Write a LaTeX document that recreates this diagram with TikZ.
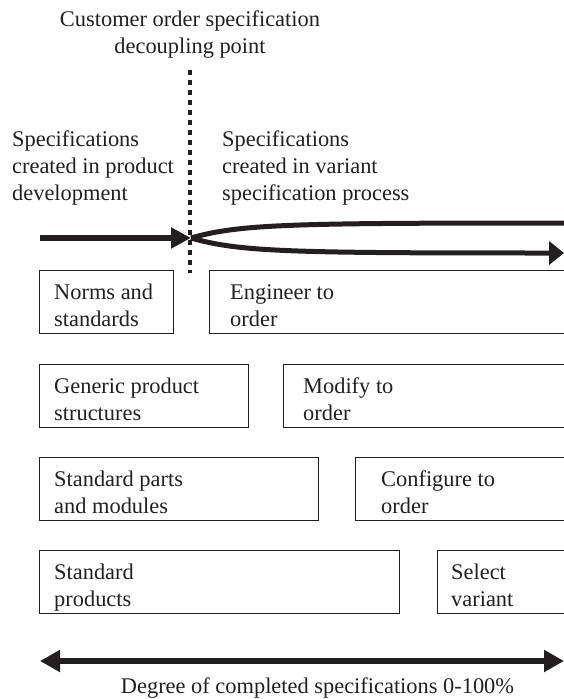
\documentclass[tikz,border=0pt]{standalone}
\usepackage{fontspec}
\setmainfont{Liberation Serif}
\usetikzlibrary{arrows.meta}
\definecolor{ink}{HTML}{231F20}
\begin{document}
\begin{tikzpicture}[x=1pt,y=-1pt,
  box/.style={draw=ink, line width=1.4pt, anchor=north west, inner sep=0pt, minimum height=63pt},
  txt/.style={anchor=north west, inner sep=0pt, align=left, text=ink, font=\fontsize{22.4}{27}\selectfont},
  ctxt/.style={inner sep=0pt, align=center, text=ink, font=\fontsize{22.4}{27}\selectfont},
  flow/.style={draw=ink, line width=6pt},
]
\useasboundingbox (0,0) rectangle (564,699);

% texts
\node[ctxt, anchor=north] (title) at (190,10.7) {Customer order specification\\decoupling point};
\node[txt] (lefttxt) at (12,131) {Specifications\\created in product\\development};
\node[txt] (righttxt) at (222,131) {Specifications\\created in variant\\specification process};

% decoupling line
\coordinate (dtop) at (190,70);
\coordinate (dbot) at (190,273);
\draw[ink, line width=4.5pt, dash pattern=on 4.5pt off 5.5pt] (dtop) -- (dbot);

% arrows at the top
\coordinate (astart) at (40,238);
\coordinate (dp) at (191,238);
\coordinate (uend) at (566,223);
\coordinate (lend) at (564,253);
\draw[flow, -{Triangle[length=20pt,width=20pt]}] (astart) -- (dp);
\draw[flow, line width=5pt] (dp) .. controls (240,224) and (290,223) .. (uend);
\draw[flow, line width=5pt, -{Triangle[length=15pt,width=23pt]}] (dp) .. controls (240,252) and (290,253) .. (lend);

% row 1
\node[box, minimum width=134pt] (norms) at (39,270) {};
\node[txt] (normst) at (54,283.7) {Norms and\\standards};
\node[box, minimum width=357pt] (eto) at (209,270) {};
\node[txt] (etot) at (230,284.2) {Engineer to\\order};
% row 2
\node[box, minimum width=209pt] (generic) at (39,364) {};
\node[txt] (generict) at (54,377.7) {Generic product\\structures};
\node[box, minimum width=283pt] (mto) at (283,364) {};
\node[txt] (mtot) at (303,377.7) {Modify to\\order};
% row 3
\node[box, minimum width=279pt] (parts) at (39,457) {};
\node[txt] (partst) at (54,470.7) {Standard parts\\and modules};
\node[box, minimum width=211pt] (cto) at (355,457) {};
\node[txt] (ctot) at (381,470.7) {Configure to\\order};
% row 4
\node[box, minimum width=360pt] (products) at (39,550) {};
\node[txt] (productst) at (54,563.7) {Standard\\products};
\node[box, minimum width=129pt] (select) at (437,550) {};
\node[txt] (selectt) at (451,563.7) {Select\\variant};

% bottom double arrow
\coordinate (la) at (40,661);
\coordinate (ra) at (564,661);
\draw[flow, line width=6.5pt, {Triangle[length=20pt,width=21pt]}-{Triangle[length=20pt,width=21pt]}] (la) -- (ra);
\node[ctxt, anchor=base] (degree) at (317.5,693) {Degree of completed specifications 0-100\%};
\end{tikzpicture}
\end{document}
